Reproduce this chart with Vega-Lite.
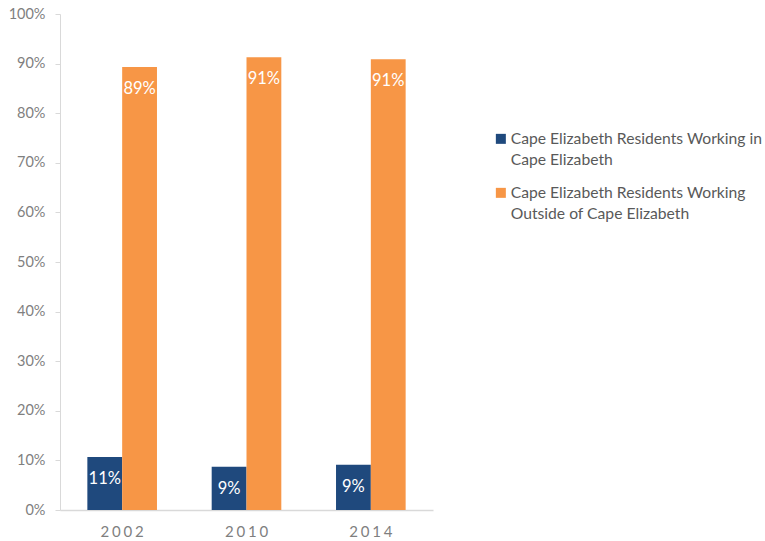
{
  "$schema": "https://vega.github.io/schema/vega-lite/v6.json",
  "width": 373,
  "height": 496,
  "autosize": {"type": "none"},
  "padding": {"left": 60, "top": 14, "right": 332, "bottom": 31},
  "config": {
    "font": "Lato",
    "view": {"stroke": null},
    "axis": {"labelFont": "Lato", "labelColor": "#7f7f7f", "domainColor": "#d9d9d9", "tickColor": "#d9d9d9", "grid": false}
  },
  "data": {
    "values": [
      {"year": "2002", "series": "Cape Elizabeth Residents Working in Cape Elizabeth", "value": 0.107},
      {"year": "2002", "series": "Cape Elizabeth Residents Working Outside of Cape Elizabeth", "value": 0.893},
      {"year": "2010", "series": "Cape Elizabeth Residents Working in Cape Elizabeth", "value": 0.087},
      {"year": "2010", "series": "Cape Elizabeth Residents Working Outside of Cape Elizabeth", "value": 0.913},
      {"year": "2014", "series": "Cape Elizabeth Residents Working in Cape Elizabeth", "value": 0.091},
      {"year": "2014", "series": "Cape Elizabeth Residents Working Outside of Cape Elizabeth", "value": 0.909}
    ]
  },
  "encoding": {
    "x": {
      "field": "year", "type": "nominal",
      "scale": {"paddingInner": 0.44, "paddingOuter": 0.22},
      "axis": {"title": null, "labelAngle": 0, "labelFontSize": 15, "labelPadding": 14, "ticks": false, "domainWidth": 1.5,
        "labelExpr": "join(split(datum.label, ''), '\u2009\u200A')"}
    },
    "xOffset": {"field": "series", "type": "nominal", "sort": ["Cape Elizabeth Residents Working in Cape Elizabeth", "Cape Elizabeth Residents Working Outside of Cape Elizabeth"]},
    "y": {
      "field": "value", "type": "quantitative",
      "scale": {"domain": [0, 1]},
      "axis": {"title": null, "format": ".0%", "tickCount": 10, "labelFontSize": 14.5, "tickSize": 5, "labelPadding": 10, "domain": true}
    }
  },
  "layer": [
    {
      "mark": {"type": "bar"},
      "encoding": {
        "color": {
          "field": "series", "type": "nominal",
          "scale": {
            "domain": ["Cape Elizabeth Residents Working in Cape Elizabeth", "Cape Elizabeth Residents Working Outside of Cape Elizabeth"],
            "range": ["#1F497D", "#F79646"]
          },
          "legend": {
            "title": null, "orient": "none", "legendX": 433, "legendY": 117,
            "symbolType": "square", "symbolSize": 100, "symbolStrokeWidth": 0,
            "labelFontSize": 15.7, "labelColor": "#595959", "labelFont": "Lato", "labelLimit": 400,
            "rowPadding": 16, "symbolOffset": 0, "labelOffset": 2,
            "labelExpr": "datum.label == 'Cape Elizabeth Residents Working in Cape Elizabeth' ? ['Cape Elizabeth Residents Working in', 'Cape Elizabeth'] : ['Cape Elizabeth Residents Working', 'Outside of Cape Elizabeth']",
            "encode": {"labels": {"update": {"lineHeight": {"value": 21}}}}
          }
        }
      }
    },
    {
      "mark": {"type": "text", "baseline": "middle", "dy": 22, "color": "white", "fontSize": 16.5, "font": "Lato"},
      "encoding": {
        "text": {"field": "value", "type": "quantitative", "format": ".0%"}
      }
    }
  ]
}
